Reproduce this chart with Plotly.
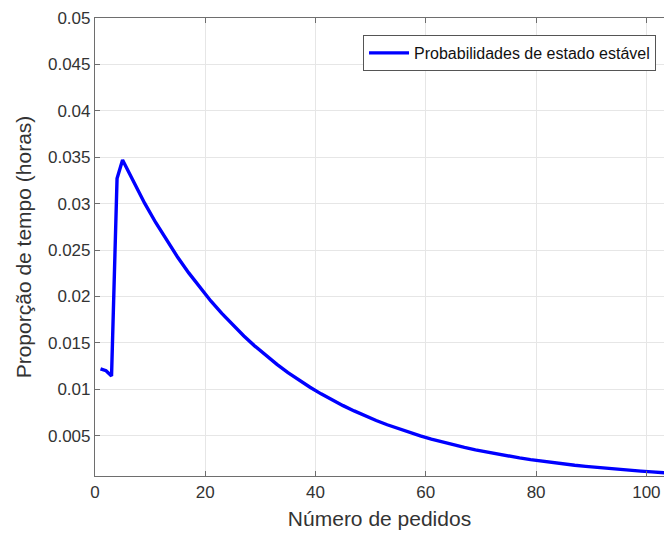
import plotly.graph_objects as go

# Data (steady-state probabilities)
x_vals = [1, 2, 3, 4, 5, 7, 9, 11, 13, 15, 17, 19, 21, 23, 25, 27, 29, 31, 33, 35,
          37, 39, 41, 43, 45, 47, 49, 51, 53, 55, 57, 59, 61, 63, 65, 67, 69, 71,
          73, 75, 77, 79, 81, 83, 85, 87, 89, 91, 93, 95, 97, 99, 101, 103, 105]
y_vals = [0.0122, 0.0120, 0.01144, 0.0327, 0.03470, 0.03229, 0.03005, 0.02797,
          0.02603, 0.02422, 0.02254, 0.02098, 0.01952, 0.01817, 0.01691, 0.01574,
          0.01465, 0.01363, 0.01268, 0.01180, 0.01098, 0.01022, 0.00951, 0.00885,
          0.00824, 0.00767, 0.00714, 0.00664, 0.00618, 0.00575, 0.00535, 0.00498,
          0.00464, 0.00431, 0.00402, 0.00374, 0.00348, 0.00324, 0.00301, 0.00280,
          0.00261, 0.00243, 0.00226, 0.00210, 0.00196, 0.00182, 0.00170, 0.00158,
          0.00147, 0.00137, 0.00127, 0.00118, 0.00110, 0.00102, 0.00095]
series_name = "Probabilidades de estado estável"
x_ticks = [0, 20, 40, 60, 80, 100]
y_ticks = [0.005, 0.01, 0.015, 0.02, 0.025, 0.03, 0.035, 0.04, 0.045, 0.05]
y_tick_text = ["0.005", "0.01", "0.015", "0.02", "0.025", "0.03", "0.035", "0.04", "0.045", "0.05"]

FONT = "Liberation Sans, Arial, sans-serif"
AXIS_COLOR = "#6e6e6e"
GRID_COLOR = "#e6e6e6"
TEXT_COLOR = "#333333"

fig = go.Figure()
fig.add_trace(go.Scatter(
    x=x_vals, y=y_vals, mode="lines", name=series_name,
    line=dict(color="#0000ff", width=3.4),
))

fig.update_layout(
    width=664, height=534,
    margin=dict(l=95, r=0, t=18, b=58),
    paper_bgcolor="white", plot_bgcolor="white",
    font=dict(family=FONT, size=17, color=TEXT_COLOR),
    showlegend=True,
    legend=dict(
        x=0.986, xanchor="right", y=0.963, yanchor="top",
        bgcolor="white", bordercolor="#555555", borderwidth=1,
        font=dict(family=FONT, size=16, color="#111111"),
        itemwidth=40, tracegroupgap=0,
    ),
    xaxis=dict(
        range=[0, 103.2], tickvals=x_ticks,
        showgrid=True, gridcolor=GRID_COLOR, gridwidth=1,
        zeroline=False,
        showline=True, linecolor=AXIS_COLOR, linewidth=1.2,
        mirror="ticks", ticks="inside", ticklen=5, tickcolor=AXIS_COLOR,
        tickfont=dict(family=FONT, size=17, color=TEXT_COLOR),
        title=dict(text="Número de pedidos", font=dict(family=FONT, size=21, color=TEXT_COLOR), standoff=10),
    ),
    yaxis=dict(
        range=[0.00066, 0.05], tickvals=y_ticks, ticktext=y_tick_text,
        showgrid=True, gridcolor=GRID_COLOR, gridwidth=1,
        zeroline=False,
        showline=True, linecolor=AXIS_COLOR, linewidth=1.2,
        mirror=False, ticks="inside", ticklen=5, tickcolor=AXIS_COLOR,
        tickfont=dict(family=FONT, size=17, color=TEXT_COLOR),
        title=dict(text="Proporção de tempo (horas)", font=dict(family=FONT, size=21, color=TEXT_COLOR), standoff=10),
    ),
)

fig.write_html("out.html")
